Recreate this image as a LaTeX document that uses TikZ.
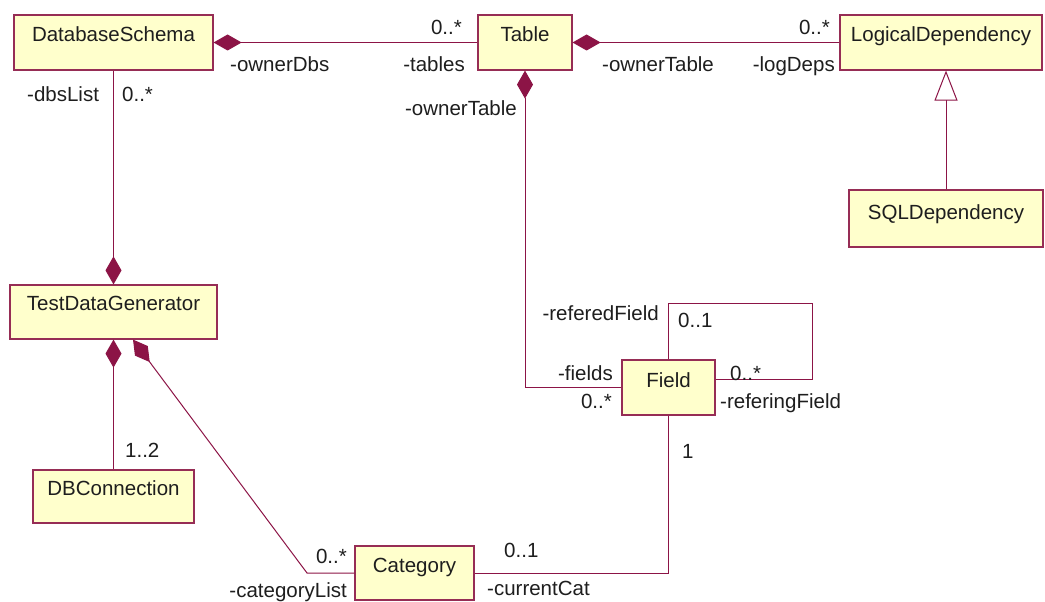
\documentclass[tikz,border=0pt]{standalone}
\usepackage{fontspec}
\setmainfont{Liberation Sans}
\usetikzlibrary{arrows.meta}
\definecolor{umlline}{RGB}{140,20,70}
\definecolor{umlborder}{RGB}{150,45,85}
\definecolor{umlfill}{RGB}{255,255,204}
\definecolor{umltext}{RGB}{30,30,30}
\tikzset{
  compo/.tip={Diamond[length=28pt,width=16pt]},
  genz/.tip={Triangle[open,length=30pt,width=23pt,fill=white]}
}
\begin{document}
\begin{tikzpicture}[x=1pt,y=-1pt,
  every node/.style={font=\fontsize{20.5}{24}\selectfont, text=umltext},
  cls/.style={draw=umlborder, fill=umlfill, line width=1.2pt, inner xsep=0pt, inner ysep=0pt,
              text height=27pt, text depth=28pt},
  lbl/.style={inner sep=0pt},
  assoc/.style={draw=umlline, line width=1pt}
]
\useasboundingbox[fill=white] (0,0) rectangle (1045,602);

% classes
\node[cls, minimum width=199pt] (ds) at (113.5,42.5) {DatabaseSchema};
\node[cls, minimum width=94pt] (tbl) at (525,42.5) {Table};
\node[cls, minimum width=202pt] (ld) at (941,42.5) {LogicalDependency};
\node[cls, minimum width=194pt, text height=29pt] (sql) at (946,218.5) {SQLDependency};
\node[cls, minimum width=207pt, text height=25pt, text depth=29pt] (tdg) at (113.5,312) {TestDataGenerator};
\node[cls, minimum width=161pt, text height=25pt, text depth=28pt] (dbc) at (113.5,496.5) {DBConnection};
\node[cls, minimum width=93pt] (fld) at (668.5,387.5) {Field};
\node[cls, minimum width=119pt, text height=26pt, text depth=28pt] (cat) at (414.5,573) {Category};

% bend points
\coordinate (catbend) at (307,573);
\coordinate (loopA) at (668.5,303);
\coordinate (loopB) at (812,303);
\coordinate (loopC) at (812,379);

% compositions
\draw[assoc, {compo}-] (ds.east) -- (tbl.west);
\draw[assoc, {compo}-] (tbl.east) -- (ld.west);
\draw[assoc, {compo}-] (tbl.south) |- (fld.west);
\draw[assoc, -{compo}] (ds.south) -- (tdg.north);
\draw[assoc, {compo}-] (tdg.south) -- (dbc.north);
\draw[assoc, {compo}-] ([xshift=19.5pt]tdg.south) -- (catbend) -- (cat.west);

% associations
\draw[assoc] (fld.south) |- (cat.east);
\draw[assoc] (fld.north) -- (loopA) -- (loopB) -- (loopC) -- (loopC -| fld.east);

% generalization
\draw[assoc, -{genz}] (sql.north) -- (sql.north |- ld.south);

% role names and multiplicities
\node[lbl, anchor=base west] (l1) at (230,72) {-ownerDbs};
\node[lbl, anchor=base east] (l2) at (462,35) {0..*};
\node[lbl, anchor=base east] (l3) at (465,72) {-tables};
\node[lbl, anchor=base west] (l4) at (602,72) {-ownerTable};
\node[lbl, anchor=base east] (l5) at (830,35) {0..*};
\node[lbl, anchor=base east] (l6) at (835,72) {-logDeps};
\node[lbl, anchor=base east] (l7) at (517,115) {-ownerTable};
\node[lbl, anchor=base west] (l8) at (27,102) {-dbsList};
\node[lbl, anchor=base west] (l9) at (122,102) {0..*};
\node[lbl, anchor=base west] (l10) at (125,457) {1..2};
\node[lbl, anchor=base east] (l11) at (347,563) {0..*};
\node[lbl, anchor=base east] (l12) at (347,597) {-categoryList};
\node[lbl, anchor=base west] (l13) at (504,557) {0..1};
\node[lbl, anchor=base west] (l14) at (487,595) {-currentCat};
\node[lbl, anchor=base west] (l15) at (682,458) {1};
\node[lbl, anchor=base east] (l16) at (659,320) {-referedField};
\node[lbl, anchor=base west] (l17) at (678,327) {0..1};
\node[lbl, anchor=base east] (l18) at (613,380) {-fields};
\node[lbl, anchor=base east] (l19) at (612,408) {0..*};
\node[lbl, anchor=base west] (l20) at (730,380) {0..*};
\node[lbl, anchor=base west] (l21) at (720,408) {-referingField};
\end{tikzpicture}
\end{document}
